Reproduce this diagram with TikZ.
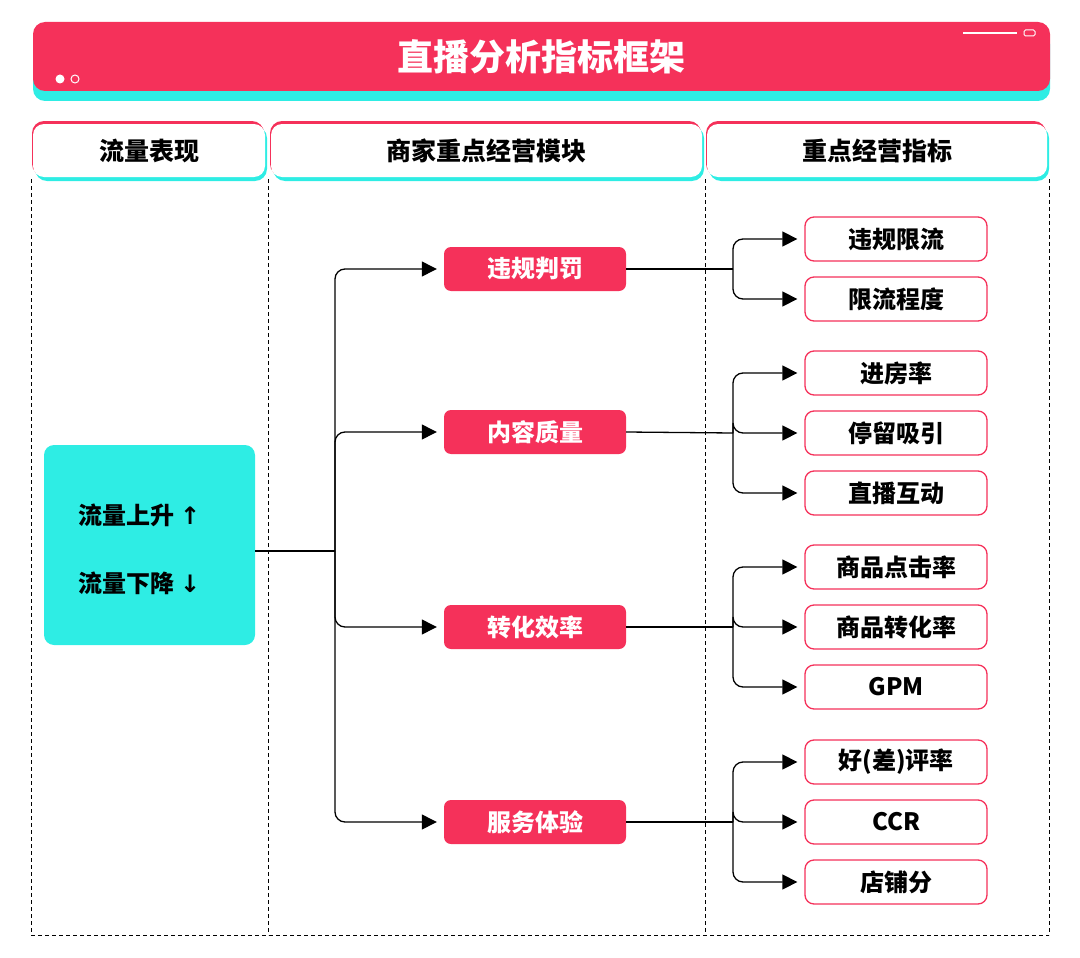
\documentclass[tikz,border=0pt]{standalone}
\usepackage{fontspec}
\setmainfont{Noto Sans CJK SC}
\newfontfamily\djv{DejaVu Sans}
\usetikzlibrary{arrows.meta}
\definecolor{rd}{HTML}{F5315A}
\definecolor{cy}{HTML}{2EEDE4}
\begin{document}
\begin{tikzpicture}[x=1pt,y=-1pt,
  arr/.style={line width=1.3pt,-{Triangle[length=15pt,width=15pt]},shorten >=7pt},
  ln/.style={line width=1.3pt},
  dsh/.style={line width=1pt,dash pattern=on 4pt off 3pt},
  mod/.style={fill=rd,rounded corners=7pt,minimum width=182pt,minimum height=44pt,text=white,font=\fontsize{24}{28}\selectfont\bfseries,inner sep=0pt},
  kpi/.style={draw=rd,line width=1.3pt,fill=white,rounded corners=9pt,minimum width=182pt,minimum height=44pt,font=\fontsize{24}{28}\selectfont\bfseries,inner sep=0pt},
  hd/.style={font=\fontsize{25}{30}\selectfont\bfseries}]
\useasboundingbox (0,0) rectangle (1080,958);
% title
\fill[cy,rounded corners=12pt] (33,32) rectangle (1050,101);
\fill[rd,rounded corners=12pt] (33,22) rectangle (1050,91);
\node[text=white,font=\fontsize{36}{40}\selectfont\bfseries] (title) at (541,57) {直播分析指标框架};
\fill[white] (60,79) circle (4.5);
\draw[white,line width=1pt] (75,79) circle (4);
\draw[white,line width=2.5pt] (963,33) -- (1017,33);
\draw[white,line width=1pt,rounded corners=1.5pt] (1024,30) rectangle (1035,36);
% column headers
\foreach \a/\b/\t/\n in {33/265/流量表现/h1,271/702/商家重点经营模块/h2,707/1047/重点经营指标/h3}{
  \fill[cy,rounded corners=12pt] (\a+2,126) rectangle (\b+2,181);
  \fill[rd,rounded corners=12pt] (\a-1,121) rectangle (\b-1,176);
  \fill[white,rounded corners=11pt] (\a,124) rectangle (\b,177);
  \node[hd] (\n) at ({(\a+\b)/2},151) {\t};
}
% dashed frame
\foreach \x in {31,268,705,1049}{\draw[dsh] (\x,179) -- (\x,935);}
\draw[dsh] (31,935) -- (1049,935);
% left box
\fill[cy,rounded corners=10pt] (44,445) rectangle (255,645);
\node[font=\fontsize{24}{28}\selectfont\bfseries,anchor=west] (up) at (75,515) {流量上升 {\djv ↑}};
\node[font=\fontsize{24}{28}\selectfont\bfseries,anchor=west] (dn) at (75,583) {流量下降 {\djv ↓}};
\coordinate (flow) at (255,551);
\coordinate (tr) at (335,551);
\draw[ln] (flow) -- (tr);
% modules
\node[mod] (m1) at (535,269) {违规判罚};
\node[mod] (m2) at (535,432) {内容质量};
\node[mod] (m3) at (535,627) {转化效率};
\node[mod] (m4) at (535,822) {服务体验};
\foreach \m in {m1,m2,m3,m4}{\draw[arr,rounded corners=10pt] (tr) |- (\m.west);}
% kpis
\node[kpi] (k11) at (896,239) {违规限流};
\node[kpi] (k12) at (896,299) {限流程度};
\node[kpi] (k21) at (896,373) {进房率};
\node[kpi] (k22) at (896,433) {停留吸引};
\node[kpi] (k23) at (896,493) {直播互动};
\node[kpi] (k31) at (896,567) {商品点击率};
\node[kpi] (k32) at (896,627) {商品转化率};
\node[kpi] (k33) at (896,687) {GPM};
\node[kpi] (k41) at (896,762) {好(差)评率};
\node[kpi] (k42) at (896,822) {CCR};
\node[kpi] (k43) at (896,882) {店铺分};
\coordinate (r1) at (733,269);
\coordinate (r2) at (733,433);
\coordinate (r3) at (733,627);
\coordinate (r4) at (733,822);
\draw[ln] (m1.east) -- (r1);
\draw[ln] (m2.east) -- (r2);
\draw[ln] (m3.east) -- (r3);
\draw[ln] (m4.east) -- (r4);
\foreach \r/\k in {r1/k11,r1/k12,r2/k21,r2/k22,r2/k23,r3/k31,r3/k32,r3/k33,r4/k41,r4/k42,r4/k43}{
  \draw[arr,rounded corners=10pt] (\r) |- (\k.west);}
\end{tikzpicture}
\end{document}
